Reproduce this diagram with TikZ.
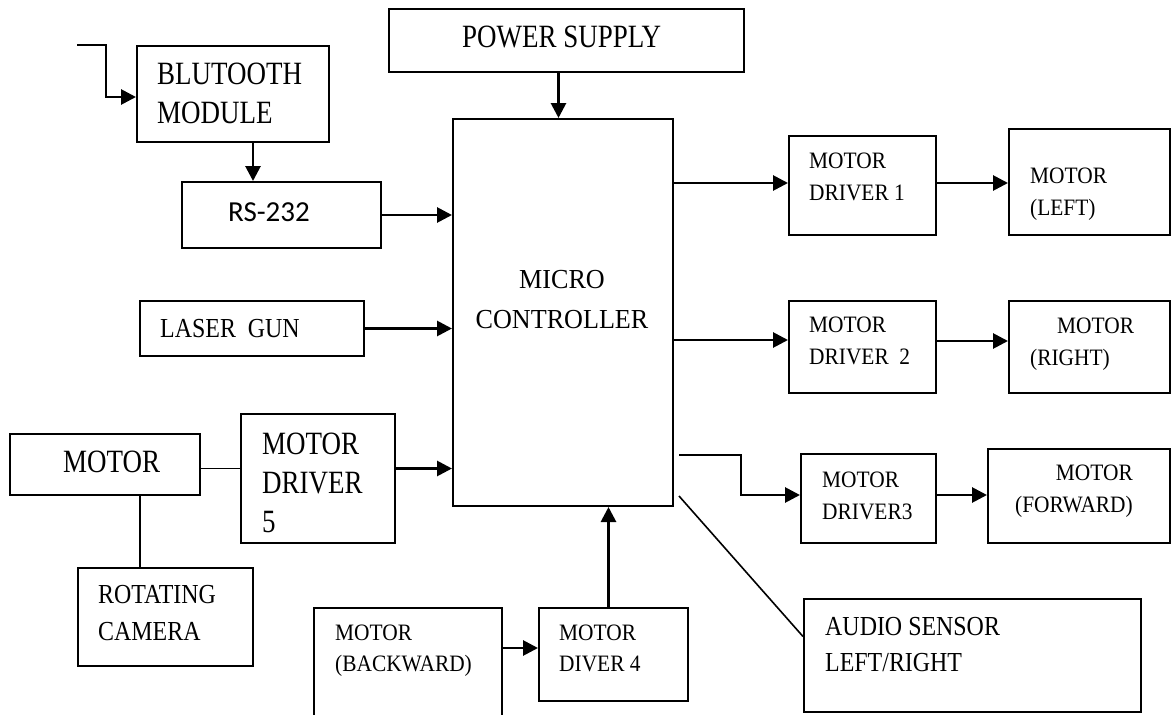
\documentclass[tikz,border=0pt]{standalone}
\usepackage{fontspec}
\setmainfont{Liberation Serif}
\newfontfamily\calib{Carlito}
\newfontfamily\stA[FakeStretch=0.83]{Liberation Serif}
\newfontfamily\stB[FakeStretch=0.95]{Liberation Serif}
\newfontfamily\stC[FakeStretch=0.87]{Liberation Serif}
\newfontfamily\stD[FakeStretch=0.91]{Liberation Serif}
\usetikzlibrary{arrows.meta,calc}
\begin{document}
\begin{tikzpicture}[x=1pt,y=-1pt,
 box/.style={draw, line width=2pt, inner sep=0pt, anchor=north west},
 big/.style={font=\stA\fontsize{32.5pt}{39pt}\selectfont, inner sep=0pt, align=left},
 med/.style={font=\stC\fontsize{27.5pt}{36pt}\selectfont, inner sep=0pt, align=left},
 sml/.style={font=\stD\fontsize{23.5pt}{32pt}\selectfont, inner sep=0pt, align=left},
 arr/.style={line width=2.8pt, -{Triangle[length=15pt,width=15pt]}},
 ln/.style={line width=1.6pt}]
\useasboundingbox (0,0) rectangle (1171,715);
\fill[white] (0,0) rectangle (1171,715);
\clip (0,0) rectangle (1171,715);
% boxes
\node[box, minimum width=192pt, minimum height=96pt] (bt) at (136,45) {};
\node[box, minimum width=199pt, minimum height=66pt] (rs) at (181,181) {};
\node[box, minimum width=355pt, minimum height=63pt] (ps) at (388,8) {};
\node[box, minimum width=220pt, minimum height=387pt] (mc) at (452,118) {};
\node[box, minimum width=224pt, minimum height=55pt] (lg) at (139,300) {};
\node[box, minimum width=147pt, minimum height=99pt] (md1) at (788,135) {};
\node[box, minimum width=161pt, minimum height=106pt] (ml) at (1008,128) {};
\node[box, minimum width=147pt, minimum height=92pt] (md2) at (788,300) {};
\node[box, minimum width=161pt, minimum height=92pt] (mr) at (1008,300) {};
\node[box, minimum width=135pt, minimum height=89pt] (md3) at (800,453) {};
\node[box, minimum width=182pt, minimum height=94pt] (mf) at (987,448) {};
\node[box, minimum width=190pt, minimum height=61pt] (mot) at (9,433) {};
\node[box, minimum width=154pt, minimum height=129pt] (md5) at (240,413) {};
\node[box, minimum width=175pt, minimum height=98pt] (cam) at (77,567) {};
\node[box, minimum width=188pt, minimum height=118pt] (mb) at (313,607) {};
\node[box, minimum width=149pt, minimum height=93pt] (md4) at (538,607) {};
\node[box, minimum width=337pt, minimum height=113pt] (aud) at (803,598) {};
% texts
\node[big, anchor=north west] (btT) at (157,63) {BLUTOOTH\\MODULE};
\node[font=\calib\fontsize{29pt}{35pt}\selectfont, inner sep=0pt, anchor=base west] (rsT) at (228,221) {RS-232};
\node[big, anchor=base west] (psT) at (462,47) {POWER SUPPLY};
\node[font=\stB\fontsize{27.5pt}{40pt}\selectfont, inner sep=0pt, align=center, anchor=north] (mcT) at (562,270) {MICRO\\CONTROLLER};
\node[med, anchor=base west] (lgT) at (160,337) {LASER\ \ GUN};
\node[sml, anchor=north west] (md1T) at (809,153) {MOTOR\\DRIVER 1};
\node[sml, anchor=north west] (mlT) at (1030,168) {MOTOR\\(LEFT)};
\node[sml, anchor=north west] (md2T) at (809,317) {MOTOR\\DRIVER\ \ 2};
\node[sml, anchor=north west] (mrT) at (1030,318) {\hspace*{27pt}MOTOR\\(RIGHT)};
\node[sml, anchor=north west] (md3T) at (822,472) {MOTOR\\DRIVER3};
\node[sml, align=right, anchor=north east] (mfT) at (1133,465) {MOTOR\\(FORWARD)};
\node[big, anchor=base west] (motT) at (63,472) {MOTOR};
\node[big, anchor=north west] (md5T) at (262,433) {MOTOR\\DRIVER\\5};
\node[font=\stC\fontsize{27.5pt}{37pt}\selectfont, inner sep=0pt, align=left, anchor=north west] (camT) at (98,585) {ROTATING\\CAMERA};
\node[font=\stD\fontsize{23.5pt}{31pt}\selectfont, inner sep=0pt, align=left, anchor=north west] (mbT) at (335,625) {MOTOR\\(BACKWARD)};
\node[font=\stD\fontsize{23.5pt}{31pt}\selectfont, inner sep=0pt, align=left, anchor=north west] (md4T) at (559,625) {MOTOR\\DIVER 4};
\node[med, anchor=north west] (audT) at (825,617) {AUDIO SENSOR\\LEFT/RIGHT};
% coordinates
\coordinate (btin) at (77,45);
\coordinate (btout) at ([xshift=20pt]bt.south);
\coordinate (psout) at ([xshift=-8pt]ps.south);
\coordinate (md5out) at ([yshift=10pt]md5.east);
\coordinate (motdown) at ([xshift=35pt]mot.south);
\coordinate (md2in) at ([yshift=7pt]md2.west);
\coordinate (mrin) at ([yshift=6pt]mr.west);
\coordinate (md3start) at ([shift={(5pt,52pt)}]mc.south east);
\coordinate (diagstart) at ([shift={(5pt,11pt)}]mc.south east);
\coordinate (audin) at ([yshift=19pt]aud.west);
\coordinate (md4in) at ([yshift=6.5pt]md4.west);
\coordinate (md4out) at ([xshift=-5pt]md4.north);
\coordinate (md1in) at ([yshift=2.5pt]md1.west);
% connectors
\draw[arr] (btin) -- ++(29,0) |- ([yshift=-3pt]bt.west);
\draw[arr] (btout) -- (btout |- rs.north);
\draw[arr] (rs.east) -- (rs.east -| mc.west);
\draw[arr] (psout) -- (psout |- mc.north);
\draw[arr] (lg.east) -- (lg.east -| mc.west);
\draw[arr] (md5out) -- (md5out -| mc.west);
\draw[ln] (md5out -| mot.east) -- (md5out -| md5.west);
\draw[ln] (motdown) -- (motdown |- cam.north);
\draw[arr] (md1in -| mc.east) -- (md1in);
\draw[arr] (md1in -| md1.east) -- (md1in -| ml.west);
\draw[arr] (md2in -| mc.east) -- (md2in);
\draw[arr] (mrin -| md2.east) -- (mrin);
\draw[arr] (md3start) -- ++(62,0) |- ([yshift=3.5pt]md3.west);
\draw[arr] ([yshift=3.5pt]md3.east) -- ([yshift=3.5pt]md3.east -| mf.west);
\draw[ln] (diagstart) -- (audin);
\draw[arr] (md4in -| mb.east) -- (md4in);
\draw[arr] (md4out) -- (md4out |- mc.south);
\end{tikzpicture}
\end{document}
